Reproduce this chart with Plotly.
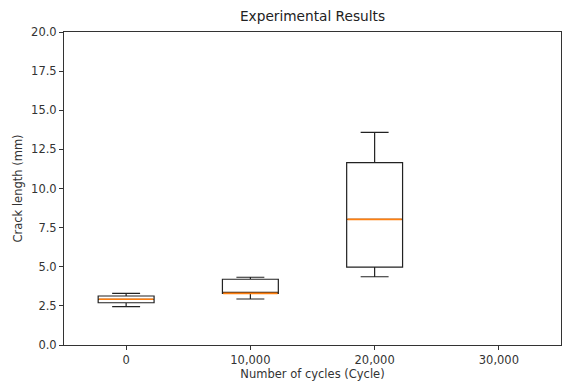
import plotly.graph_objects as go

positions = [0, 10000, 20000]
lower_whisker = [2.45, 2.94, 4.36]
q1 = [2.70, 3.30, 4.98]
median = [2.92, 3.30, 8.03]
q3 = [3.13, 4.20, 11.65]
upper_whisker = [3.30, 4.33, 13.59]
x_ticks = [0, 10000, 20000, 30000]
x_tick_labels = ["0", "10,000", "20,000", "30,000"]
y_ticks = [0, 2.5, 5, 7.5, 10, 12.5, 15, 17.5, 20]
box_width = 4500

fig = go.Figure()
fig.add_trace(go.Box(
    x=positions, q1=q1, median=median, q3=q3,
    lowerfence=lower_whisker, upperfence=upper_whisker,
    width=box_width, whiskerwidth=0.5,
    fillcolor="white", line=dict(color="#222222", width=1.2),
    boxpoints=False, showlegend=False, hoverinfo="skip",
))
for p, m in zip(positions, median):
    fig.add_trace(go.Scatter(
        x=[p - box_width / 2 + 60, p + box_width / 2 - 60], y=[m, m], mode="lines",
        line=dict(color="#ff7f0e", width=1.6), showlegend=False, hoverinfo="skip",
    ))

axis_common = dict(showgrid=False, zeroline=False, showline=True, linecolor="#333333",
                   linewidth=1, mirror=True, ticks="outside", ticklen=4, tickcolor="#333333",
                   tickfont=dict(size=11.5, color="#333333"), automargin=False)
fig.update_xaxes(range=[-5000, 35000], tickvals=x_ticks, ticktext=x_tick_labels,
                 title=dict(text="Number of cycles (Cycle)", font=dict(size=11.5, color="#333333"), standoff=2),
                 **axis_common)
fig.update_yaxes(range=[0, 20], tickvals=y_ticks, tickformat=".1f",
                 title=dict(text="Crack length (mm)", font=dict(size=11.5, color="#333333"), standoff=6),
                 **axis_common)
fig.update_layout(
    width=562, height=385,
    margin=dict(l=64, r=1, t=32, b=40, autoexpand=False),
    paper_bgcolor="white", plot_bgcolor="white",
    font=dict(family="DejaVu Sans", color="#333333"),
    title=dict(text="Experimental Results", x=0.5, xanchor="center", y=0.958, yanchor="middle",
               xref="paper", font=dict(size=13.7, color="#222222")),
)
fig.write_html("out.html", config={"responsive": False, "displayModeBar": False},
               default_width="562px", default_height="385px",
               post_script="document.body.style.margin='0';document.body.style.overflow='hidden';")
